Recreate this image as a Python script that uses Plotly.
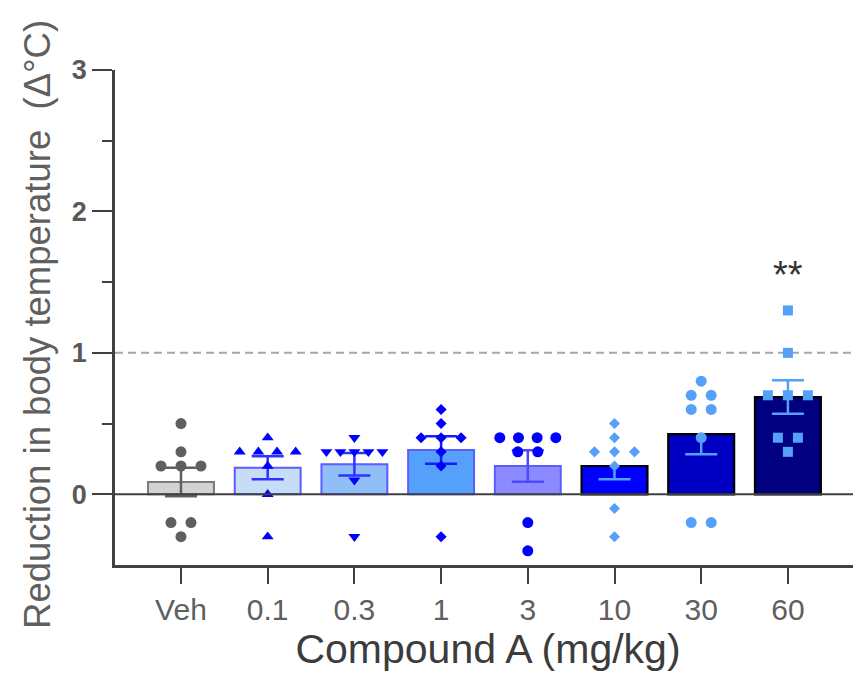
import numpy as np
import plotly.graph_objects as go

# ---- data ----
categories = ["Veh", "0.1", "0.3", "1", "3", "10", "30", "60"]
veh  = [0.5, 0.3, 0.2, 0.2, 0.2, -0.2, -0.2, -0.3]
d0_1 = [0.4, 0.3, 0.3, 0.3, 0.3, 0.2, 0.0, -0.3]
d0_3 = [0.4, 0.3, 0.3, 0.3, 0.3, 0.3, 0.1, -0.3]
d1   = [0.6, 0.5, 0.4, 0.4, 0.4, 0.3, 0.2, -0.3]
d3   = [0.4, 0.4, 0.4, 0.4, 0.3, 0.3, -0.2, -0.4]
d10  = [0.5, 0.4, 0.3, 0.3, 0.3, 0.2, -0.1, -0.3]
d30  = [0.8, 0.7, 0.7, 0.6, 0.6, 0.4, -0.2, -0.2]
d60  = [1.3, 1.0, 0.7, 0.7, 0.7, 0.4, 0.4, 0.3]
groups = [veh, d0_1, d0_3, d1, d3, d10, d30, d60]
upper_error_shown = [True, True, True, True, True, False, False, True]
significance = {7: "**"}
threshold = 1.0

# ---- styles ----
bar_fill = ["#d3d3d3", "#c6dcf7", "#90bff8", "#55a0fa", "#8b8bff", "#0000ff", "#0000c4", "#000080"]
bar_edge = ["#7a7a7a", "#5c5cff", "#5c5cff", "#5c5cff", "#5c5cff", "#000000", "#000000", "#000000"]
pt_color = ["#5f5f5f", "#0000ff", "#0000ff", "#0000ff", "#0000ff", "#55a0f8", "#55a0f8", "#55a0f8"]
err_color = ["#5f5f5f", "#3030ff", "#3030ff", "#1a1aff", "#4a4aff", "#55a0f8", "#55a0f8", "#55a0f8"]
symbols = ["circle", "triangle-up", "triangle-down", "diamond", "circle", "diamond", "circle", "square"]
sizes = [11, 10.5, 10.5, 8.5, 11, 8.5, 11, 10]

PX_PER_CAT = 86.7
BAR_W = 0.76
CAP_HALF = 16 / PX_PER_CAT
SPACING = 20 / PX_PER_CAT
MAX_SPREAD = 56 / PX_PER_CAT

fig = go.Figure()

means = [float(np.mean(g)) for g in groups]
sems = [float(np.std(g, ddof=1) / np.sqrt(len(g))) for g in groups]

for i, g in enumerate(groups):
    fig.add_trace(go.Bar(
        x=[i], y=[means[i]], width=BAR_W,
        marker=dict(color=bar_fill[i], line=dict(color=bar_edge[i], width=2.2 if i >= 5 else 2)),
        showlegend=False, hoverinfo="skip"))

for i, g in enumerate(groups):
    up = sems[i] if upper_error_shown[i] else 0.0
    fig.add_trace(go.Scatter(
        x=[i], y=[means[i]], mode="markers", marker=dict(size=1, opacity=0),
        error_y=dict(type="data", symmetric=False, array=[up], arrayminus=[sems[i]],
                     color=err_color[i], thickness=2.5, width=0),
        showlegend=False, hoverinfo="skip"))
    cap_y = [means[i] - sems[i]] + ([means[i] + sems[i]] if upper_error_shown[i] else [])
    fig.add_trace(go.Scatter(
        x=[i] * len(cap_y), y=cap_y, mode="markers", marker=dict(size=1, opacity=0),
        error_x=dict(type="data", array=[CAP_HALF] * len(cap_y), color=err_color[i],
                     thickness=2.5, width=0),
        showlegend=False, hoverinfo="skip"))

for i, g in enumerate(groups):
    xs, ys = [], []
    vals = sorted(set(g), reverse=True)
    for v in vals:
        n = g.count(v)
        step = SPACING if n < 2 else min(SPACING, MAX_SPREAD / (n - 1))
        for k in range(n):
            xs.append(i + (k - (n - 1) / 2) * step)
            ys.append(v)
    fig.add_trace(go.Scatter(
        x=xs, y=ys, mode="markers",
        marker=dict(symbol=symbols[i], size=sizes[i], color=pt_color[i], line=dict(width=0)),
        showlegend=False, hoverinfo="skip"))

font_family = "Arial, Liberation Sans, sans-serif"

for i, txt in significance.items():
    fig.add_annotation(x=i, y=1.55, text=txt, showarrow=False, xref="x", yref="y",
                       font=dict(size=38, color="#333333", family=font_family),
                       yanchor="middle")

fig.add_annotation(x=-0.1032, y=0.485, xref="paper", yref="paper", textangle=-90,
                   text="Reduction in body temperature  (Δ°C)", showarrow=False,
                   xanchor="center", yanchor="middle",
                   font=dict(size=36.5, color="#5f5f5f", family=font_family))

fig.add_shape(type="line", xref="paper", yref="y", x0=0, x1=1, y0=threshold, y1=threshold,
              line=dict(color="#a6a6a6", width=2, dash="8px,5px"), layer="below")
fig.add_shape(type="line", xref="paper", yref="y", x0=0, x1=1, y0=0, y1=0,
              line=dict(color="#404040", width=2), layer="above")

fig.update_layout(
    width=853, height=676,
    margin=dict(l=107, r=0, t=62, b=119, autoexpand=False),
    paper_bgcolor="white", plot_bgcolor="white",
    barmode="overlay", showlegend=False,
    font=dict(family=font_family),
    xaxis=dict(
        range=[-0.761, 7.843], tickmode="array", tickvals=list(range(len(categories))),
        ticktext=categories, showline=True, linecolor="#404040", linewidth=2.5,
        ticks="outside", ticklen=16, tickwidth=2, tickcolor="#404040",
        showgrid=False, zeroline=False,
        tickfont=dict(size=30, color="#5f5f5f", family=font_family),
        title=dict(text="Compound A (mg/kg)", font=dict(size=41, color="#3c3c3c", family=font_family),
                   standoff=8),
    ),
    yaxis=dict(
        range=[-0.5, 3], tickmode="array", tickvals=[0, 1, 2, 3], ticktext=["<b>0</b>", "<b>1</b>", "<b>2</b>", "<b>3</b>"],
        showline=True, linecolor="#404040", linewidth=2.5,
        ticks="outside", ticklen=20, tickwidth=2, tickcolor="#404040",
        minor=dict(tickvals=[0.5, 1.5, 2.5], ticks="outside", ticklen=10, tickwidth=2, tickcolor="#404040"),
        showgrid=False, zeroline=False,
        tickfont=dict(size=27, color="#595959", family=font_family),
    ),
)

fig.write_html("out.html")
